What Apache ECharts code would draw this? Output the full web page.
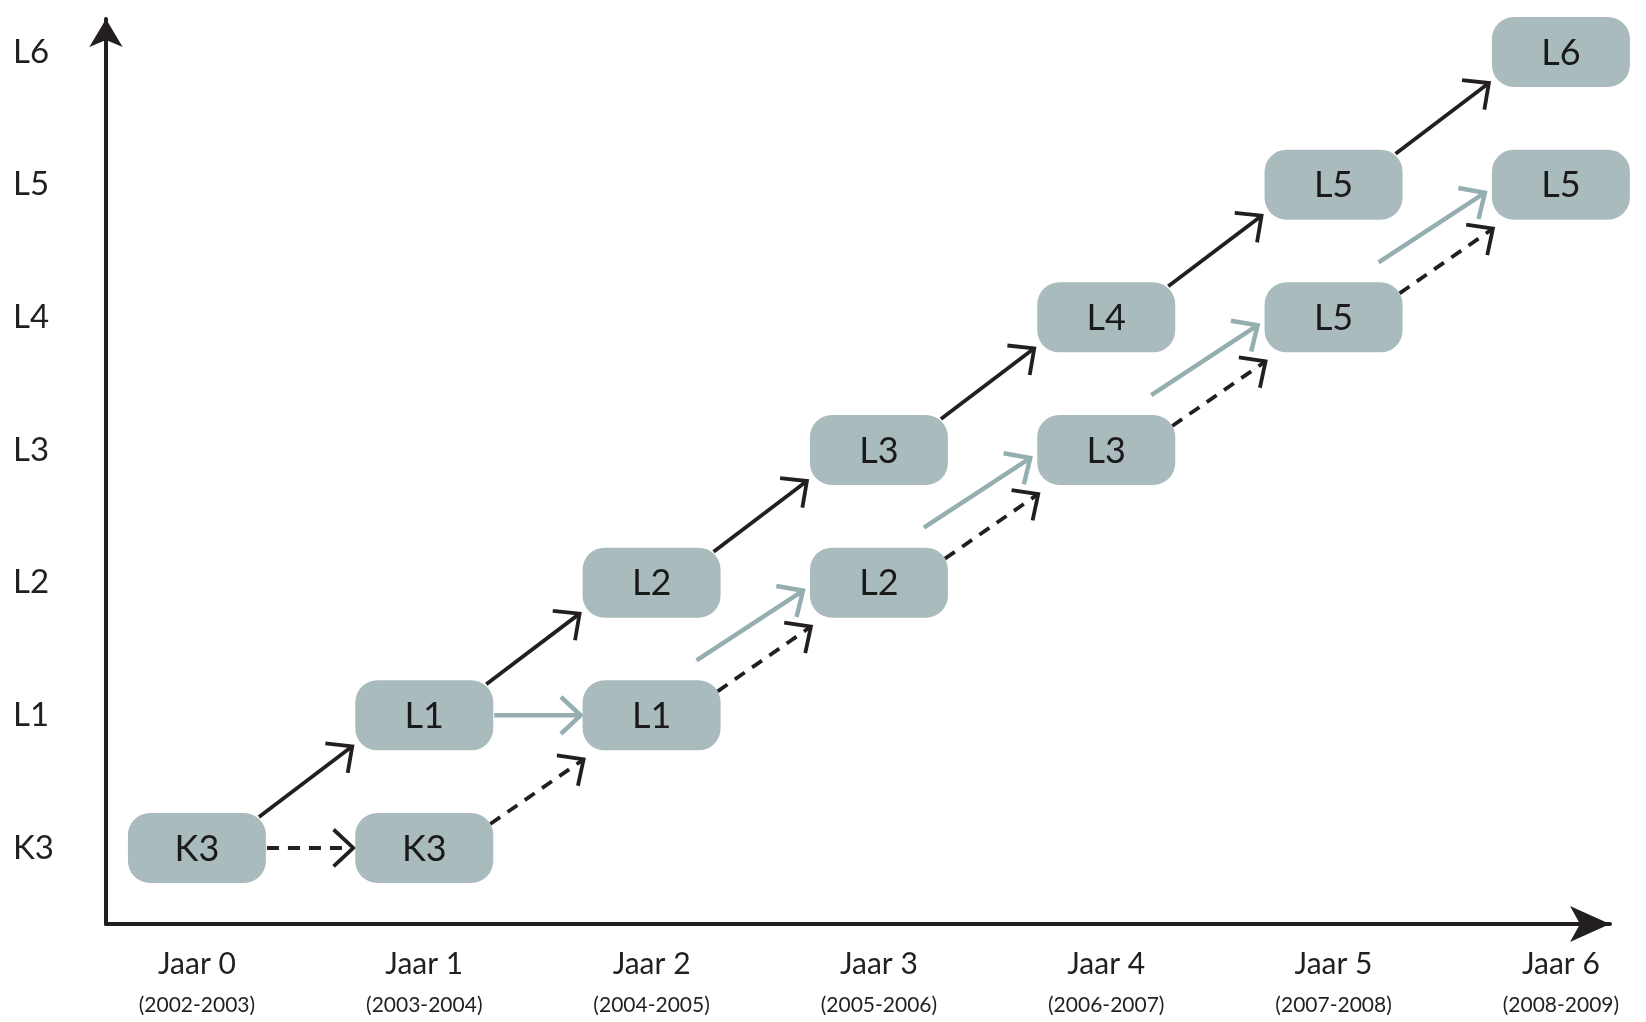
<!DOCTYPE html>
<html><head><meta charset="utf-8">
<script src="https://cdn.jsdelivr.net/npm/echarts@6/dist/echarts.min.js"></script>
<style>html,body{margin:0;padding:0;background:#fff}#c{width:1646px;height:1022px}</style>
</head><body><div id="c"></div>
<script>
// ---- data ----
const years = ['Jaar 0','Jaar 1','Jaar 2','Jaar 3','Jaar 4','Jaar 5','Jaar 6'];
const periods = ['(2002-2003)','(2003-2004)','(2004-2005)','(2005-2006)','(2006-2007)','(2007-2008)','(2008-2009)'];
const levels = ['K3','L1','L2','L3','L4','L5','L6'];
// boxes: year index, row (level index), label
const boxYear  = [0, 1, 1, 2, 2, 3, 3, 4, 4, 5, 5, 6, 6];
const boxLevel = [0, 1, 0, 2, 1, 3, 2, 4, 3, 5, 4, 6, 5];
const boxText  = ['K3','L1','K3','L2','L1','L3','L2','L4','L3','L5','L5','L6','L5'];
// arrows: [fromYear, fromLevel, toYear, toLevel]
const solidArrows  = [[0,0,1,1],[1,1,2,2],[2,2,3,3],[3,3,4,4],[4,4,5,5],[5,5,6,6]];
const dashedArrows = [[0,0,1,0],[1,0,2,1],[2,1,3,2],[3,2,4,3],[4,3,5,4],[5,4,6,5]];
const tealArrows   = [[1,1,2,1],[2,1,3,2],[3,2,4,3],[4,3,5,4],[5,4,6,5]];

// ---- styling ----
const FONT = 'Lato, "Open Sans", "DejaVu Sans", sans-serif';
const INK = '#231f20';
const BOX_FILL = '#aabbbd';
const TEAL = '#95aeb0';
const BOX_W = 138, BOX_H = 70;

function arrowRender(st) {
  return function (params, api) {
    const a = api.coord([api.value(0), api.value(1)]);
    const b = api.coord([api.value(2), api.value(3)]);
    const horiz = api.value(1) === api.value(3);
    let s, e;
    if (horiz) { s = [a[0] + 70, a[1]]; e = [b[0] - 71, b[1]]; }
    else { s = [a[0] + st.so[0], a[1] + st.so[1]]; e = [b[0] + st.eo[0], b[1] + st.eo[1]]; }
    const ang = Math.atan2(e[1] - s[1], e[0] - s[0]);
    const L = 27, h = Math.PI * 0.24;
    const p1 = [e[0] - L * Math.cos(ang - h), e[1] - L * Math.sin(ang - h)];
    const p2 = [e[0] - L * Math.cos(ang + h), e[1] - L * Math.sin(ang + h)];
    return {
      type: 'group', children: [
        { type: 'line', shape: { x1: s[0], y1: s[1], x2: e[0] - 2 * Math.cos(ang), y2: e[1] - 2 * Math.sin(ang) },
          style: { stroke: st.color, lineWidth: st.w, lineDash: st.dash || null, fill: null } },
        { type: 'polyline', shape: { points: [p1, e, p2] },
          style: { stroke: st.color, lineWidth: st.w, fill: null, lineJoin: 'miter' } }
      ]
    };
  };
}

function boxRender(params, api) {
  const c = api.coord([api.value(0), api.value(1)]);
  return {
    type: 'group', children: [
      { type: 'rect', shape: { x: c[0] - BOX_W / 2, y: c[1] - BOX_H / 2, width: BOX_W, height: BOX_H, r: 22 },
        style: { fill: BOX_FILL } },
      { type: 'text', x: c[0], y: c[1] + 1,
        style: { text: boxText[params.dataIndex], fill: '#1a1a1a', fontSize: 36, fontFamily: FONT,
                 align: 'center', verticalAlign: 'middle' } }
    ]
  };
}

const chart = echarts.init(document.getElementById('c'), null, { renderer: 'canvas' });
chart.setOption({
  animation: false,
  backgroundColor: '#fff',
  grid: { left: 106, right: 36, top: 19, bottom: 98 },
  xAxis: {
    type: 'value', min: -0.40, max: 6.216,
    axisLine: { show: true, onZero: false, symbol: ['none', 'arrow'], symbolSize: [27, 40], lineStyle: { color: INK, width: 4 } },
    axisTick: { show: false }, splitLine: { show: false },
    axisLabel: {
      customValues: [0, 1, 2, 3, 4, 5, 6], margin: 21,
      formatter: v => '{a|' + years[Math.round(v)] + '}\n{b|' + periods[Math.round(v)] + '}',
      rich: {
        a: { fontSize: 30, fontFamily: FONT, color: INK, lineHeight: 38, align: 'center' },
        b: { fontSize: 21, fontFamily: FONT, color: INK, lineHeight: 44, align: 'center' }
      }
    }
  },
  yAxis: {
    type: 'value', min: -0.573, max: 6.249,
    axisLine: { show: true, onZero: false, symbol: ['none', 'arrow'], symbolSize: [25, 28], lineStyle: { color: INK, width: 4 } },
    axisTick: { show: false }, splitLine: { show: false },
    axisLabel: {
      customValues: [0, 1, 2, 3, 4, 5, 6], margin: 93, align: 'left',
      formatter: v => levels[Math.round(v)],
      fontSize: 33, fontFamily: FONT, color: INK
    }
  },
  series: [
    { type: 'custom', name: 'teal', renderItem: arrowRender({ color: TEAL, w: 4.5, so: [45, -55], eo: [-76, 8] }),
      encode: { x: [0, 2], y: [1, 3] }, data: tealArrows, z: 2 },
    { type: 'custom', name: 'dashed', renderItem: arrowRender({ color: INK, w: 3.8, dash: [12, 9], so: [66, -24], eo: [-68, 44] }),
      encode: { x: [0, 2], y: [1, 3] }, data: dashedArrows, z: 2 },
    { type: 'custom', name: 'solid', renderItem: arrowRender({ color: INK, w: 3.8, so: [62, -31], eo: [-72, 31] }),
      encode: { x: [0, 2], y: [1, 3] }, data: solidArrows, z: 2 },
    { type: 'custom', name: 'boxes', renderItem: boxRender, encode: { x: 0, y: 1 },
      data: boxYear.map((x, i) => [x, boxLevel[i]]), z: 3 }
  ]
});
</script></body></html>
